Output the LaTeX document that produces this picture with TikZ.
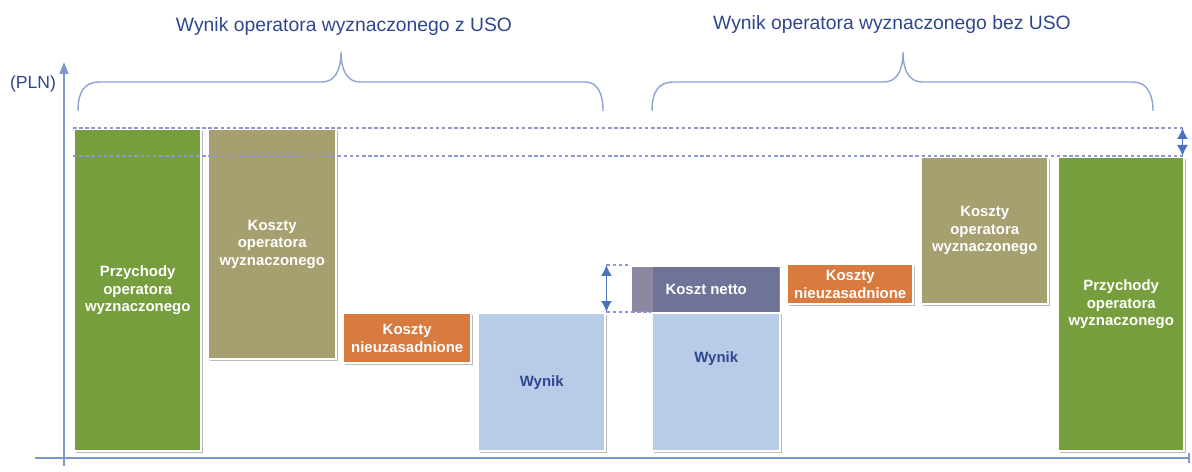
\documentclass[tikz,border=0pt]{standalone}
\usepackage{fontspec}
\setmainfont{Liberation Sans}
\usetikzlibrary{arrows.meta,positioning,shadows}
\definecolor{axisblue}{HTML}{7F98CC}
\definecolor{titleblue}{HTML}{2E4690}
\definecolor{revgreen}{HTML}{779E3D}
\definecolor{costolive}{HTML}{A69F6F}
\definecolor{costorange}{HTML}{D97A3F}
\definecolor{resultblue}{HTML}{B8CCE8}
\definecolor{netpurple}{HTML}{403864}
\definecolor{guidepurple}{HTML}{9296D0}
\definecolor{arrowblue}{HTML}{4A72BE}
\definecolor{braceblue}{HTML}{8CA3D3}
\tikzset{
  box/.style={
    draw=white,
    line width=1.4pt,
    inner sep=0pt,
    anchor=north west,
    align=center,
    text=white,
    font=\fontsize{8.5}{10}\selectfont\bfseries
  },
  bar/.style={
    box,
    drop shadow={shadow xshift=1.2pt, shadow yshift=-1.2pt, opacity=0.45, fill=black!60}
  },
  result/.style={
    bar,
    fill=resultblue,
    text=titleblue
  },
  title/.style={
    text=titleblue,
    font=\fontsize{11}{13}\selectfont
  },
  axisline/.style={
    draw=axisblue,
    line width=1.1pt
  },
  brace/.style={
    draw=braceblue,
    line width=0.8pt
  },
  guide/.style={
    draw=guidepurple,
    line width=0.6pt,
    dash pattern=on 2pt off 1.5pt
  },
  dim/.style={
    {Latex[length=2.2mm,width=2.2mm]}-{Latex[length=2.2mm,width=2.2mm]},
    draw=arrowblue,
    line width=0.8pt
  }
}
\begin{document}
\begin{tikzpicture}[x=0.02cm, y=-0.02cm]
    \useasboundingbox (0,0) rectangle (1192,472);
    % axes
    \coordinate (ytop) at (64,62);
    \coordinate (ybot) at (64,466);
    \coordinate (xleft) at (35,458);
    \coordinate (xright) at (1190,458);
    \draw[axisline, -{Bar[width=2mm]}] (xleft) -- (xright);
    \draw[axisline, -{Triangle[length=2.4mm,width=1.8mm]}] (ybot) -- (ytop);
    \node[title, font=\fontsize{10}{12}\selectfont] (pln) at (33,84) {(PLN)};
    % titles and braces
    \node[title] (withuso) at (344,27) {Wynik operatora wyznaczonego z USO};
    \node[title] (withoutuso) at (892,25) {Wynik operatora wyznaczonego bez USO};
    \draw[brace] (78,111) .. controls (78,92) and (84,82) .. (100,82) -- (322,82)
      .. controls (335,82) and (341,70) .. (341,52)
      .. controls (341,70) and (347,82) .. (360,82) -- (585,82)
      .. controls (598,82) and (603,94) .. (603,111);
    \draw[brace] (652,111) .. controls (652,92) and (658,82) .. (674,82) -- (884,82)
      .. controls (897,82) and (903,70) .. (903,52)
      .. controls (903,70) and (909,82) .. (922,82) -- (1133,82)
      .. controls (1147,82) and (1153,94) .. (1153,111);
    % left part: with USO
    \node[bar, fill=revgreen, minimum width=2.54cm, minimum height=6.44cm] (revL) at (73,128) {Przychody\\operatora\\wyznaczonego};
    \node[bar, fill=costolive, minimum width=2.56cm, minimum height=4.6cm] (costL) at (207,128) {Koszty\\operatora\\wyznaczonego};
    \node[bar, fill=costorange, minimum width=2.56cm, minimum height=1cm] (unjL) at (342,312) {Koszty\\nieuzasadnione};
    \node[result, minimum width=2.54cm, minimum height=2.76cm] (resL) at (477,312) {Wynik};
    % right part: without USO
    \node[result, minimum width=2.56cm, minimum height=3.7cm] (resR) at (651,265) {Wynik};
    \node[box, fill=netpurple, fill opacity=0.6, text opacity=1, draw opacity=1,
      minimum width=3cm, minimum height=0.94cm] (net) at (630,265) {Koszt netto};
    \node[bar, fill=costorange, minimum width=2.52cm, minimum height=0.8cm] (unjR) at (786,263) {Koszty\\nieuzasadnione};
    \node[bar, fill=costolive, minimum width=2.54cm, minimum height=2.94cm] (costR) at (920,156) {Koszty\\operatora\\wyznaczonego};
    \node[bar, fill=revgreen, minimum width=2.52cm, minimum height=5.88cm] (revR) at (1057,156) {Przychody\\operatora\\wyznaczonego};
    % guides and differences
    \coordinate (gaptop) at (revR.north east |- revL.north);
    \coordinate (nettop) at (resL.north east |- net.north);
    \draw[guide] (revL.north west) -- (gaptop);
    \draw[guide] (revL.west |- revR.north) -- (revR.north east);
    \draw[dim] ([xshift=-0.06cm]gaptop) -- ([xshift=-0.06cm]revR.north east);
    \draw[guide] (nettop) -- (net.north west);
    \draw[guide] (resL.north east) -- (resR.west |- resL.north);
    \draw[dim] (nettop) -- (resL.north east);
\end{tikzpicture}
\end{document}
